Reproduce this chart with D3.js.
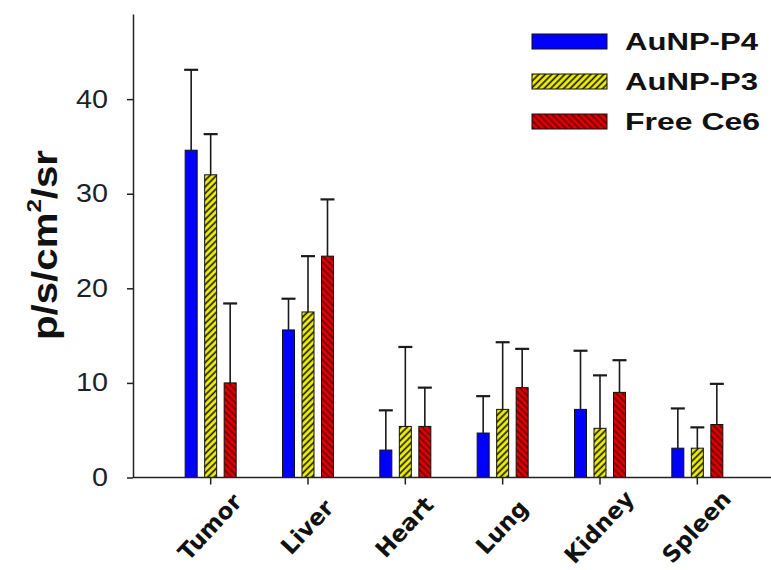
<!DOCTYPE html>
<html>
<head>
<meta charset="utf-8">
<script src="https://cdn.jsdelivr.net/npm/d3@7"></script>
<style>
  body { margin: 0; background: #fff; }
  svg { display: block; }
</style>
</head>
<body>
<svg width="771" height="570"></svg>
<script>
// data
const organs = ['Tumor', 'Liver', 'Heart', 'Lung', 'Kidney', 'Spleen'];
const seriesNames = ['AuNP-P4', 'AuNP-P3', 'Free Ce6'];
const p4Values = [34.6, 15.6, 2.9, 4.7, 7.2, 3.1];
const p4Errors = [8.5, 3.3, 4.2, 3.9, 6.2, 4.2];
const p3Values = [32.0, 17.5, 5.4, 7.2, 5.2, 3.1];
const p3Errors = [4.3, 5.9, 8.4, 7.1, 5.6, 2.2];
const ce6Values = [10.0, 23.4, 5.4, 9.5, 9.0, 5.6];
const ce6Errors = [8.4, 6.0, 4.1, 4.1, 3.4, 4.3];
const yTicks = [0, 10, 20, 30, 40];

const seriesValues = [p4Values, p3Values, ce6Values];
const seriesErrors = [p4Errors, p3Errors, ce6Errors];
const fills = ['#0000ff', 'url(#hatchYellow)', 'url(#hatchRed)'];

const svg = d3.select('svg');

// hatch patterns
const defs = svg.append('defs');
function hatch(id, bg, lineColor, angle) {
    const p = defs.append('pattern')
        .attr('id', id)
        .attr('patternUnits', 'userSpaceOnUse')
        .attr('width', 4.6)
        .attr('height', 4.6)
        .attr('patternTransform', `rotate(${angle})`);
    p.append('rect').attr('width', 4.6).attr('height', 4.6).attr('fill', bg);
    p.append('line')
        .attr('x1', 1.2).attr('x2', 1.2)
        .attr('y1', 0).attr('y2', 4.6)
        .attr('stroke', lineColor)
        .attr('stroke-width', 1.7);
}
hatch('hatchYellow', '#f2f200', '#1a1a00', 45);
hatch('hatchRed', '#e00000', '#6e0000', -45);

// scales
const y = d3.scaleLinear().domain([0, 49]).range([477.5, 14]);
const x = d3.scaleBand().domain(organs).range([162, 746]);
const inner = d3.scalePoint().domain(seriesNames).range([-19.5, 19.5]);
const barW = 12;
const center = d => x(d) + x.bandwidth() / 2;

// bars
seriesNames.forEach((s, si) => {
    const rows = organs.map((o, i) => ({ organ: o, v: seriesValues[si][i], e: seriesErrors[si][i] }));
    const g = svg.append('g');
    g.selectAll('rect')
        .data(rows)
        .enter().append('rect')
        .attr('x', d => center(d.organ) + inner(s) - barW / 2)
        .attr('y', d => y(d.v))
        .attr('width', barW)
        .attr('height', d => y(0) - y(d.v))
        .attr('fill', fills[si])
        .attr('stroke', '#111')
        .attr('stroke-width', 1);

    // error bars (upper only)
    const eb = g.selectAll('g.err')
        .data(rows)
        .enter().append('g')
        .attr('class', 'err')
        .attr('stroke', '#1a1a1a');
    eb.append('line')
        .attr('x1', d => center(d.organ) + inner(s))
        .attr('x2', d => center(d.organ) + inner(s))
        .attr('y1', d => y(d.v))
        .attr('y2', d => y(d.v + d.e))
        .attr('stroke-width', 1.6);
    eb.append('line')
        .attr('x1', d => center(d.organ) + inner(s) - 7)
        .attr('x2', d => center(d.organ) + inner(s) + 7)
        .attr('y1', d => y(d.v + d.e))
        .attr('y2', d => y(d.v + d.e))
        .attr('stroke-width', 2.2);
});

// y axis
const yAxis = svg.append('g')
    .attr('transform', 'translate(133,0)')
    .call(d3.axisLeft(y).tickValues(yTicks).tickSize(6).tickSizeOuter(0).tickPadding(19));
yAxis.select('.domain').attr('stroke', '#222').attr('stroke-width', 1.5);
yAxis.selectAll('.tick line').attr('stroke', '#222').attr('stroke-width', 1.5);
yAxis.selectAll('.tick text')
    .attr('fill', '#1f1f2a')
    .style('font-family', '"Liberation Sans", Arial, sans-serif')
    .style('font-size', '25px')
    .attr('textLength', d => String(d).length * 16)
    .attr('lengthAdjust', 'spacingAndGlyphs');

// x axis
svg.append('line')
    .attr('x1', 133).attr('x2', 771)
    .attr('y1', y(0)).attr('y2', y(0))
    .attr('stroke', '#222').attr('stroke-width', 1.5);
const xAxis = svg.append('g')
    .attr('transform', `translate(0,${y(0)})`)
    .call(d3.axisBottom(x).tickSize(7).tickSizeOuter(0));
xAxis.select('.domain').remove();
xAxis.selectAll('.tick line').attr('stroke', '#222').attr('stroke-width', 1.5);
xAxis.selectAll('.tick text')
    .attr('x', 0).attr('y', 0).attr('dy', 0)
    .attr('transform', 'translate(5,55) rotate(-47)')
    .attr('fill', '#111')
    .style('text-anchor', 'middle')
    .style('font-family', '"DejaVu Sans", Verdana, sans-serif')
    .style('font-weight', 'bold')
    .style('font-size', '23px');

// y label
const yLabel = svg.append('text')
    .attr('transform', 'translate(57,245) rotate(-90)')
    .attr('text-anchor', 'middle')
    .attr('fill', '#111')
    .style('font-family', '"Liberation Sans", Arial, sans-serif')
    .style('font-weight', 'bold')
    .style('font-size', '35px')
    .attr('textLength', 190)
    .attr('lengthAdjust', 'spacingAndGlyphs');
yLabel.append('tspan').text('p/s/cm');
yLabel.append('tspan').text('2').attr('dy', -16).style('font-size', '21px');
yLabel.append('tspan').text('/sr').attr('dy', 16);

// legend
const legend = svg.append('g');
const ly = d3.scalePoint().domain(seriesNames).range([41.5, 121.5]);
seriesNames.forEach((s, si) => {
    legend.append('rect')
        .attr('x', 532).attr('y', ly(s) - 7.5)
        .attr('width', 75).attr('height', 15)
        .attr('fill', fills[si])
        .attr('stroke', '#111').attr('stroke-width', 1);
    legend.append('text')
        .attr('x', 625).attr('y', ly(s) + 8.5)
        .attr('fill', '#111')
        .style('font-family', '"Liberation Sans", Arial, sans-serif')
        .style('font-weight', 'bold')
        .style('font-size', '24px')
        .attr('textLength', si === 2 ? 135 : 133)
        .attr('lengthAdjust', 'spacingAndGlyphs')
        .text(s);
});
</script>
</body>
</html>
